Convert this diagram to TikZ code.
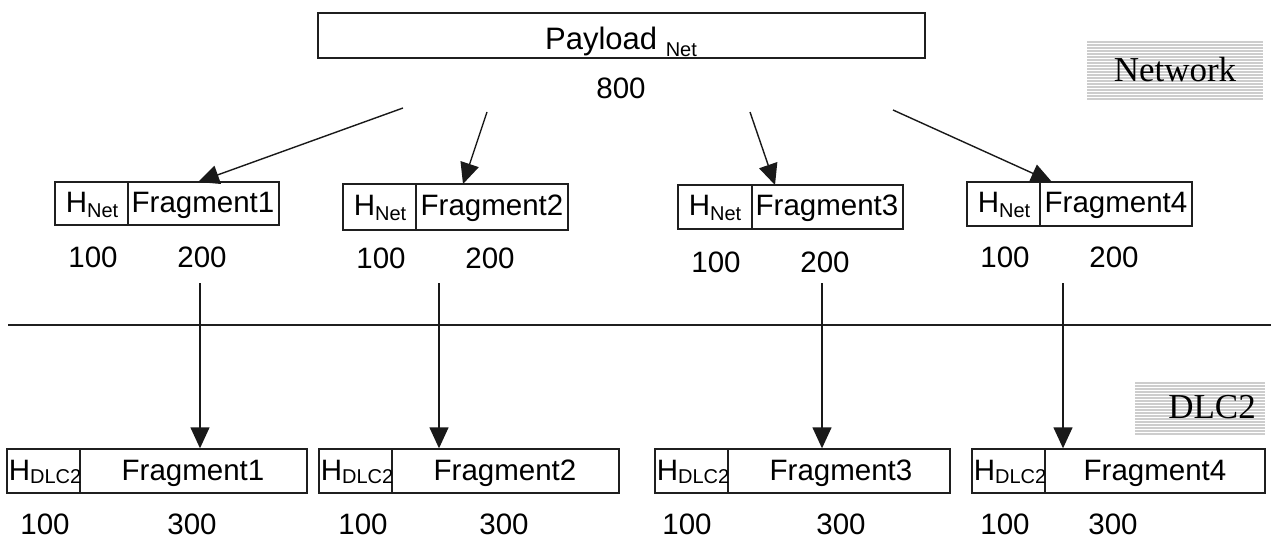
\documentclass[tikz,border=0pt]{standalone}
\usepackage{fontspec}
\setmainfont{Liberation Sans}
\newfontfamily\tnr{Liberation Serif}
\usetikzlibrary{arrows.meta}
\definecolor{stripegray}{RGB}{205,205,205}
\newcommand\subtxt[2]{{\fontsize{20}{20}\selectfont\raisebox{-#1}{#2}}}
\begin{document}
\begin{tikzpicture}[x=1pt,y=-1pt,
  cell/.style={draw=black!88, line width=1.4pt, inner sep=0pt, minimum height=44pt},
  txt/.style={anchor=base, inner sep=0pt, font=\fontsize{29.5}{29.5}\selectfont},
  bigtxt/.style={anchor=base, inner sep=0pt, font=\fontsize{31}{31}\selectfont},
  layertxt/.style={anchor=base, inner sep=0pt, font=\tnr\fontsize{35}{35}\selectfont},
  arr/.style={line width=1.4pt, draw=black!90, -{Triangle[length=21pt,width=19pt]}},
  rule/.style={line width=1.4pt, draw=black!88}]
\useasboundingbox (0,0) rectangle (1271,538);

% layer labels on striped backgrounds
\fill[stripegray] (1087,41) rectangle (1263,100);
\foreach \yy in {43,46,...,99} \draw[white, line width=0.9pt] (1087,\yy) -- (1263,\yy);
\node[layertxt] (lnet) at (1175,81) {Network};
\fill[stripegray] (1135,382) rectangle (1265,435);
\foreach \yy in {384,387,...,434} \draw[white, line width=0.9pt] (1135,\yy) -- (1265,\yy);
\node[layertxt] (ldlc) at (1212,418) {DLC2};

% network payload
\node[cell, minimum width=607pt, minimum height=45pt] (pay) at (621.5,35.5) {};
\node[bigtxt] (paytxt) at (621,49) {Payload \subtxt{7pt}{Net}};
\node[txt] (paylen) at (621,98) {800};

% network fragments
\node[cell, minimum width=73pt, minimum height=43pt] (h1) at (91.5,203.5) {};
\node[cell, minimum width=151pt, minimum height=43pt] (f1) at (203.5,203.5) {};
\node[cell, minimum width=73pt, minimum height=46pt] (h2) at (379.5,207) {};
\node[cell, minimum width=152pt, minimum height=46pt] (f2) at (492,207) {};
\node[cell, minimum width=74pt] (h3) at (715,207) {};
\node[cell, minimum width=151pt] (f3) at (827.5,207) {};
\node[cell, minimum width=73pt] (h4) at (1003.5,204) {};
\node[cell, minimum width=152pt] (f4) at (1116,204) {};

\node[txt] at (92,212) {H\subtxt{5pt}{Net}};
\node[txt] at (203,212) {Fragment1};
\node[txt] at (380,215) {H\subtxt{5pt}{Net}};
\node[txt] at (492,215) {Fragment2};
\node[txt] at (715,215) {H\subtxt{5pt}{Net}};
\node[txt] at (827,215) {Fragment3};
\node[txt] at (1004,212) {H\subtxt{5pt}{Net}};
\node[txt] at (1116,212) {Fragment4};

\node[txt] at (93,267) {100};   \node[txt] at (202,267) {200};
\node[txt] at (381,268) {100};  \node[txt] at (490,268) {200};
\node[txt] at (716,272) {100};  \node[txt] at (825,272) {200};
\node[txt] at (1005,267) {100}; \node[txt] at (1114,267) {200};

% fragmentation arrows
\coordinate (s1) at (403,108); \coordinate (t1) at (198,182);
\coordinate (s2) at (487,112); \coordinate (t2) at (463,184);
\coordinate (s3) at (750,112); \coordinate (t3) at (775,185);
\coordinate (s4) at (893,110); \coordinate (t4) at (1052,182);
\draw[arr] (s1) -- (t1);
\draw[arr] (s2) -- (t2);
\draw[arr] (s3) -- (t3);
\draw[arr] (s4) -- (t4);

% layer boundary
\coordinate (bl) at (8,325); \coordinate (br) at (1271,325);
\draw[rule] (bl) -- (br);

% DLC2 frames
\node[cell, minimum width=73pt] (dh1) at (43.5,471) {};
\node[cell, minimum width=227pt] (df1) at (193.5,471) {};
\node[cell, minimum width=73pt] (dh2) at (355.5,471) {};
\node[cell, minimum width=227pt] (df2) at (505.5,471) {};
\node[cell, minimum width=73pt] (dh3) at (691.5,471) {};
\node[cell, minimum width=222pt] (df3) at (839,471) {};
\node[cell, minimum width=73pt] (dh4) at (1008.5,471) {};
\node[cell, minimum width=220pt] (df4) at (1155,471) {};

\node[txt] at (45,480) {H\subtxt{3pt}{DLC2}};
\node[txt] at (193,480) {Fragment1};
\node[txt] at (357,480) {H\subtxt{3pt}{DLC2}};
\node[txt] at (505,480) {Fragment2};
\node[txt] at (693,480) {H\subtxt{3pt}{DLC2}};
\node[txt] at (841,480) {Fragment3};
\node[txt] at (1010,480) {H\subtxt{3pt}{DLC2}};
\node[txt] at (1155,480) {Fragment4};

\node[txt] at (45,534) {100};   \node[txt] at (192,534) {300};
\node[txt] at (363,534) {100};  \node[txt] at (504,534) {300};
\node[txt] at (687,534) {100};  \node[txt] at (841,534) {300};
\node[txt] at (1005,534) {100}; \node[txt] at (1113,534) {300};

% encapsulation arrows
\coordinate (v1) at (200,283);
\coordinate (v2) at (439,283);
\coordinate (v3) at (822,283);
\coordinate (v4) at (1063,283);
\draw[arr] (v1) -- (v1 |- df1.north);
\draw[arr] (v2) -- (v2 |- df2.north);
\draw[arr] (v3) -- (v3 |- df3.north);
\draw[arr] (v4) -- (v4 |- df4.north);
\end{tikzpicture}
\end{document}
